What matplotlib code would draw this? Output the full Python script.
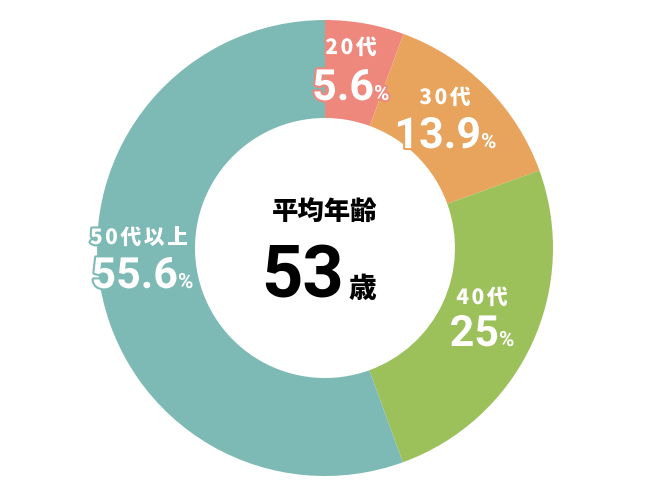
import matplotlib
matplotlib.use('Agg')
import matplotlib.pyplot as plt
import matplotlib.patheffects as pe

# data
labels = ['20代', '30代', '40代', '50代以上']
values = [5.6, 13.9, 25, 55.6]
value_texts = ['5.6', '13.9', '25', '55.6']
colors = ['#EE887D', '#E8A35C', '#9CC05A', '#7EBAB5']
avg_title = '平均年齢'
avg_age = '53'

W, H = 650, 500
cx, cy, R = 325, 248, 228

fig = plt.figure(figsize=(6.5, 5), dpi=100)
ax = fig.add_axes([0, 0, 1, 1])

ax.pie(values, colors=colors, startangle=90, counterclock=False,
       radius=1, wedgeprops=dict(width=1 - 130 / R, edgecolor='none'))

# pie resets the limits, so set them afterwards
ax.set_xlim(-cx / R, (W - cx) / R)
ax.set_ylim(-(H - cy) / R, cy / R)
ax.set_aspect('equal')
ax.axis('off')

def px(x, y):
    return (x - cx) / R, (cy - y) / R

jp = ['Noto Sans CJK JP', 'DejaVu Sans']
num = ['Roboto', 'DejaVu Sans']
renderer = fig.canvas.get_renderer()

def spaced(xc, yc, s, gap, **kw):
    # draw s char by char with extra letter spacing, centred on (xc, yc)
    ts = [ax.text(0, 0, ch, ha='left', va='center', **kw) for ch in s]
    widths = [t.get_window_extent(renderer).width for t in ts]
    total = sum(widths) + gap * (len(s) - 1)
    x = xc - total / 2
    for t, w in zip(ts, widths):
        t.set_position(px(x, yc))
        x += w + gap

# label positions in pixels: (name x, name y, split x, baseline y)
pos = [(351, 48, 374, 100), (445, 98, 481, 148),
       (482, 298, 499, 346), (139, 238, 178, 288)]

for lab, vt, c, (nx, ny, sx, by) in zip(labels, value_texts, colors, pos):
    stroke = [pe.withStroke(linewidth=3, foreground=c)]
    spaced(nx, ny, lab, 2.5, color='white', fontsize=15, fontweight='heavy',
           family=jp, path_effects=stroke)
    x, y = px(sx, by)
    ax.text(x, y, vt, ha='right', va='baseline', color='white',
            fontsize=31, fontweight='bold', family=num, path_effects=stroke)
    ax.text(x, y, '%', ha='left', va='baseline', color='white',
            fontsize=15, fontweight='bold', family=num, path_effects=stroke)

x, y = px(325, 212)
ax.text(x, y, avg_title, ha='center', va='center', color='black',
        fontsize=19, fontweight='heavy', family=jp)
x, y = px(344, 297)
ax.text(x, y, avg_age, ha='right', va='baseline', color='black',
        fontsize=52, fontweight='bold', family=num)
ax.text(px(348, 297)[0], y, '歳', ha='left', va='baseline', color='black',
        fontsize=20, fontweight='heavy', family=jp)

fig.savefig('out.png', dpi=100)
